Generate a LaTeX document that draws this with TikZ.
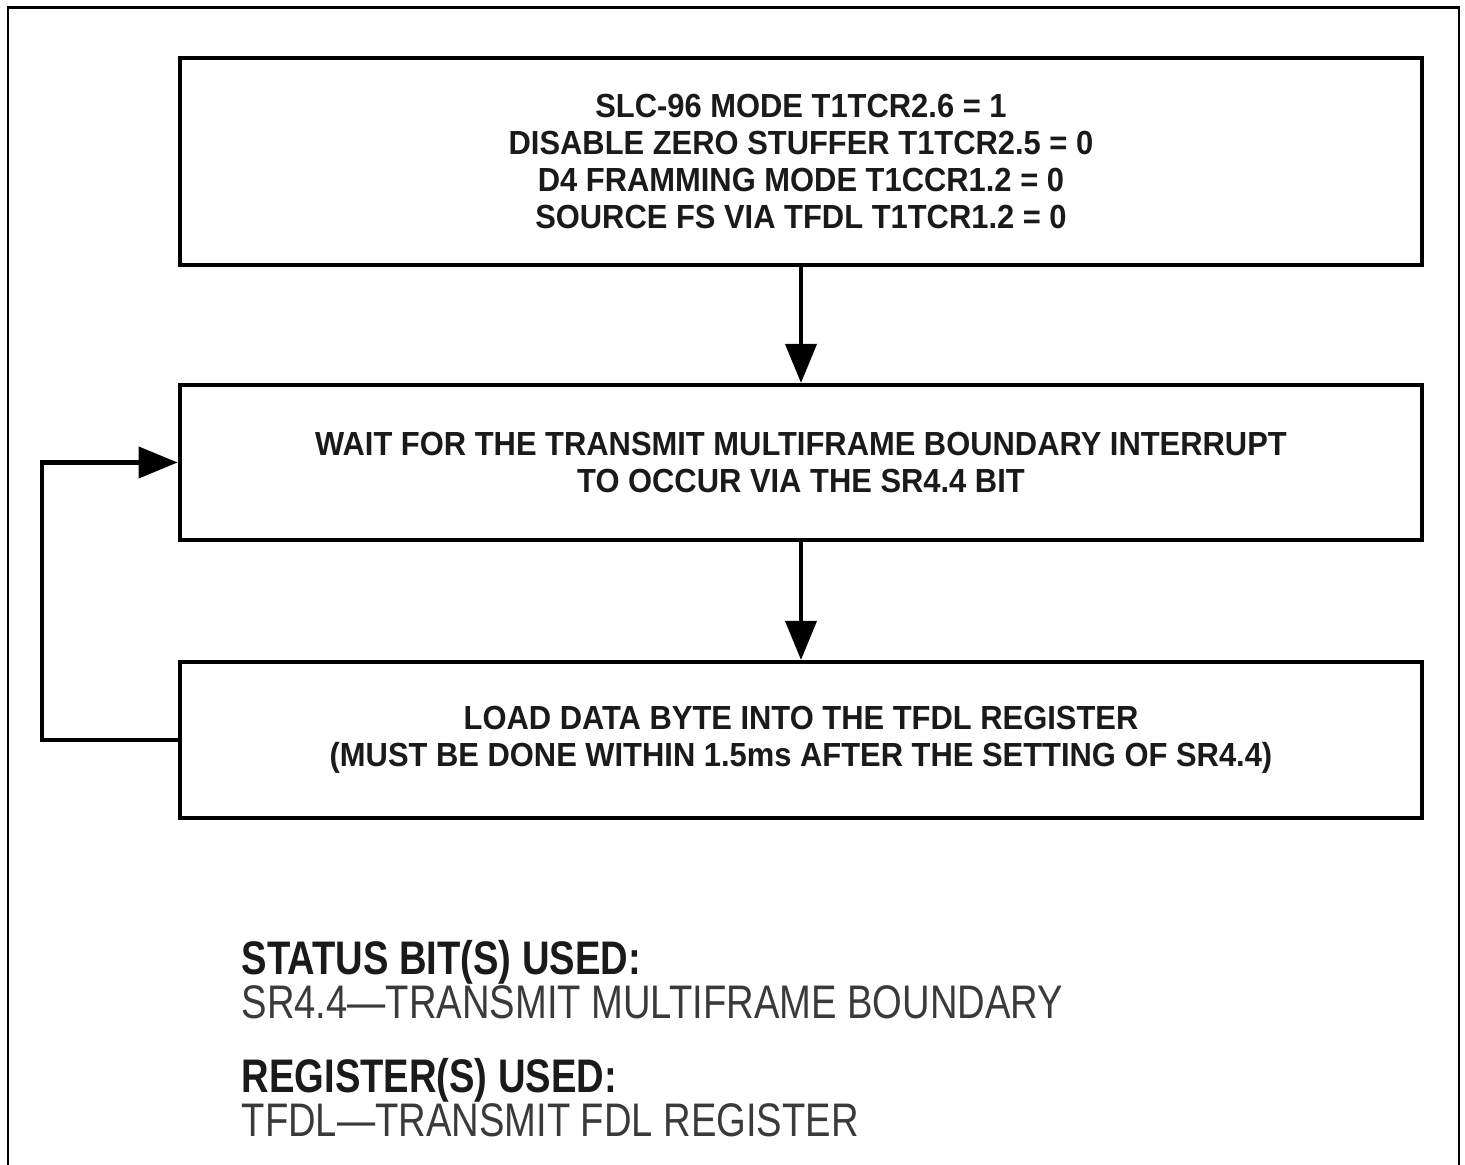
\documentclass[tikz,border=0pt]{standalone}
\usepackage{fontspec}
\usepackage{tikz}
\usetikzlibrary{arrows.meta}
\usetikzlibrary{positioning}
\newfontfamily\boxfont[FakeStretch=0.925]{Liberation Sans}
\newfontfamily\notefont[FakeStretch=0.81]{Liberation Sans}
\definecolor{ink}{HTML}{1A1A1A}
\definecolor{note}{HTML}{3A3A3A}

\begin{document}
\begin{tikzpicture}[x=0.01cm,y=-0.01cm]
        \tikzstyle{stepbox}=[draw=black,line width=1.15pt,minimum width=12.42cm,align=center,text=ink,font=\boxfont\bfseries\fontsize{9.5}{10.6}\selectfont]
        \tikzstyle{edge}=[draw,line width=1.15pt,-{Triangle[length=3.9mm,width=3.1mm]}]
        \tikzstyle{head}=[anchor=base west,inner sep=0pt,text=ink,font=\notefont\bfseries\fontsize{13.4}{14}\selectfont]
        \tikzstyle{body}=[anchor=base west,inner sep=0pt,text=note,font=\notefont\fontsize{13.4}{14}\selectfont]
        \useasboundingbox (0,0) rectangle (1465,1165);
        % frame
        \draw[line width=0.85pt] (8,1170) -- (8,8) -- (1459,8) -- (1459,1170);
       \begin{scope}
         \node [stepbox,minimum height=2.07cm] (setup) at (801,161.5) {SLC-96 MODE T1TCR2.6 = 1\\DISABLE ZERO STUFFER T1TCR2.5 = 0\\D4 FRAMMING MODE T1CCR1.2 = 0\\SOURCE FS VIA TFDL T1TCR1.2 = 0};
         \node [stepbox,minimum height=1.55cm] (wait) at (801,462.5) {WAIT FOR THE TRANSMIT MULTIFRAME BOUNDARY INTERRUPT\\TO OCCUR VIA THE SR4.4 BIT};
         \node [stepbox,minimum height=1.56cm] (load) at (801,740) {LOAD DATA BYTE INTO THE TFDL REGISTER\\(MUST BE DONE WITHIN 1.5ms AFTER THE SETTING OF SR4.4)};
         \coordinate (loop) at (42,740);
         \path[edge] (setup) -- (wait);
         \path[edge] (wait) -- (load);
         \path[edge] (load.west) -- (loop) |- (wait.west);
        \end{scope}
        % notes
        \node [head] (stathead) at (241,975) {STATUS BIT(S) USED:};
        \node [body] (statbody) at (241,1019) {SR4.4—TRANSMIT MULTIFRAME BOUNDARY};
        \node [head] (reghead) at (241,1093) {REGISTER(S) USED:};
        \node [body] (regbody) at (241,1137) {TFDL—TRANSMIT FDL REGISTER};
      \end{tikzpicture}
\end{document}
